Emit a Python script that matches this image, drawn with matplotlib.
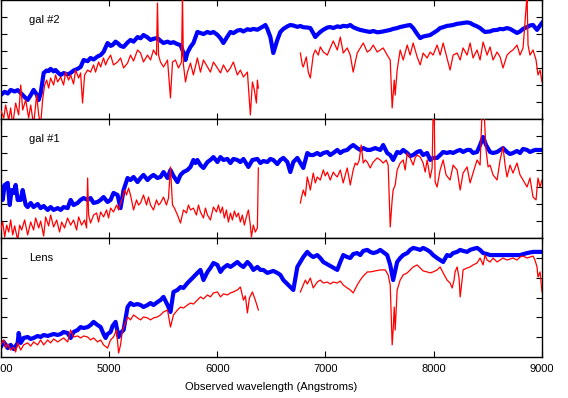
import numpy as np
import matplotlib
matplotlib.use("Agg")
import matplotlib.pyplot as plt

plt.rcParams['font.family'] = ['Liberation Sans', 'DejaVu Sans']

nan = np.nan

# ---- gal #2 ----
wave_g2_blue = [4000, 4037, 4065, 4092, 4129, 4157, 4185, 4212, 4249, 4277, 4304, 4332, 4351, 4369,
                4397, 4424, 4443, 4461, 4489, 4507, 4526, 4554, 4581, 4618, 4646, 4673, 4710, 4738,
                4766, 4803, 4830, 4858, 4895, 4923, 4950, 4987, 5015, 5033, 5061, 5079, 5107, 5135,
                5172, 5199, 5227, 5264, 5292, 5319, 5356, 5384, 5411, 5448, 5476, 5504, 5541, 5568,
                5596, 5633, 5661, 5688, 5707, 5725, 5753, 5780, 5799, 5817, 5845, 5873, 5910, 5937,
                5965, 6002, 6030, 6057, 6094, 6122, 6149, 6186, 6214, 6242, 6279, 6306, 6334, 6371,
                6399, 6426, 6445, 6463, 6491, 6518, 6555, 6583, 6611, 6648, 6675, 6703, 6740, 6768,
                6795, 6832, 6860, 6887, 6906, 6924, 6952, 6980, 7017, 7044, 7072, 7109, 7137, 7164,
                7201, 7229, 7256, 7293, 7321, 7349, 7386, 7413, 7441, 7478, 7506, 7533, 7570, 7598,
                7625, 7662, 7690, 7718, 7755, 7782, 7810, 7847, 7875, 7902, 7939, 7967, 7994, 8031,
                8059, 8087, 8123, 8151, 8179, 8216, 8244, 8271, 8308, 8336, 8363, 8400, 8428, 8456,
                8474, 8520, 8548, 8585, 8613, 8640, 8677, 8705, 8732, 8769, 8797, 8825, 8862, 8889,
                8917, 8954, 8982, 9000]
flux_g2_blue = [1.41, 1.60, 1.50, 1.71, 1.62, 1.70, 1.53, 1.35, 1.12, 1.40, 1.71, 1.45, 1.12, 1.50,
                2.71, 2.85, 2.82, 2.95, 2.80, 2.88, 2.75, 2.59, 2.70, 2.62, 2.71, 2.85, 2.95, 3.06,
                3.47, 3.40, 3.59, 3.50, 3.68, 3.76, 3.95, 4.47, 4.30, 4.35, 4.55, 4.47, 4.30, 4.24,
                4.50, 4.65, 4.55, 4.82, 4.75, 4.94, 4.80, 4.65, 4.72, 4.76, 4.60, 4.47, 4.55, 4.47,
                4.52, 4.40, 4.35, 3.90, 3.47, 3.90, 4.24, 4.47, 4.80, 5.12, 5.06, 5.00, 5.12, 5.05,
                5.12, 4.95, 4.75, 4.47, 4.85, 5.12, 5.05, 5.20, 5.24, 5.15, 5.28, 5.24, 5.30, 5.25,
                5.35, 5.45, 5.53, 5.30, 4.82, 3.88, 4.65, 5.12, 5.30, 5.45, 5.53, 5.50, 5.42, 5.47,
                5.40, 5.38, 5.35, 5.05, 4.82, 4.95, 5.12, 5.25, 5.38, 5.41, 5.35, 5.45, 5.41, 5.48,
                5.45, 5.53, 5.40, 5.30, 5.24, 5.20, 5.15, 5.12, 5.18, 5.10, 5.12, 5.15, 5.20, 5.24,
                5.30, 5.35, 5.41, 5.45, 5.50, 5.53, 5.35, 5.00, 4.76, 4.85, 4.90, 4.94, 5.05, 5.20,
                5.35, 5.40, 5.48, 5.50, 5.53, 5.60, 5.62, 5.65, 5.68, 5.65, 5.55, 5.45, 5.35, 5.20,
                5.12, 5.15, 5.22, 5.24, 5.30, 5.28, 5.35, 5.30, 5.20, 5.06, 5.15, 5.30, 5.41, 5.50,
                5.53, 5.24, 5.50, 5.65]

wave_g2_red = [4000, 4028, 4046, 4074, 4092, 4111, 4138, 4166, 4185, 4203, 4231, 4258, 4277, 4304,
               4332, 4351, 4369, 4387, 4406, 4424, 4443, 4461, 4489, 4507, 4526, 4554, 4581, 4600,
               4627, 4646, 4673, 4692, 4720, 4738, 4756, 4775, 4803, 4830, 4858, 4876, 4904, 4923,
               4950, 4969, 4987, 5015, 5042, 5079, 5107, 5135, 5172, 5199, 5227, 5264, 5292, 5319,
               5356, 5384, 5411, 5439, 5448, 5458, 5476, 5504, 5541, 5568, 5587, 5614, 5642, 5670,
               5679, 5688, 5707, 5725, 5753, 5780, 5817, 5845, 5873, 5910, 5937, 5965, 6002, 6030,
               6057, 6094, 6122, 6149, 6186, 6214, 6242, 6279, 6306, 6325, 6343, 6362, 6371, 6380,
               6570,
               6768, 6786, 6795, 6823, 6841, 6860, 6887, 6906, 6934, 6952, 6980, 7017, 7044, 7072,
               7109, 7137, 7164, 7201, 7229, 7256, 7293, 7321, 7349, 7386, 7413, 7441, 7478, 7506,
               7533, 7570, 7598, 7616, 7635, 7644, 7662, 7690, 7718, 7755, 7782, 7810, 7847, 7875,
               7902, 7939, 7967, 7994, 8031, 8059, 8087, 8123, 8151, 8179, 8216, 8244, 8271, 8308,
               8336, 8363, 8400, 8428, 8456, 8493, 8520, 8548, 8585, 8613, 8640, 8677, 8705, 8732,
               8769, 8797, 8825, 8862, 8871, 8889, 8917, 8945, 8963, 8982, 9000]
flux_g2_red = [0.53, 0.06, 0.82, -0.06, 0.65, -0.35, 0.94, 0.24, 2.00, 0.53, 1.12, 0.06, 0.82, -0.35,
               1.41, 0.24, -0.35, 1.12, 2.00, 2.29, 1.82, 2.41, 2.00, 2.59, 2.18, 2.47, 2.00, 2.76,
               2.29, 2.59, 2.06, 2.88, 2.41, 2.71, 0.94, 2.59, 2.88, 2.76, 3.18, 2.76, 3.35, 3.06,
               3.59, 3.18, 3.47, 3.76, 3.18, 3.35, 3.59, 3.00, 3.29, 3.76, 3.41, 4.06, 3.88, 3.35,
               3.76, 3.47, 4.06, 3.76, 6.82, 3.76, 3.35, 3.06, 3.47, 1.24, 3.35, 3.47, 3.00, 3.35,
               7.30, 3.18, 2.18, 2.76, 3.29, 2.59, 3.59, 2.76, 3.47, 3.06, 2.76, 3.35, 3.00, 2.71,
               3.18, 2.76, 3.00, 3.35, 2.59, 2.88, 2.47, 2.76, 0.24, 2.18, 1.71, 0.94, 2.29, 1.82,
               nan,
               3.88, 3.18, 3.06, 3.65, 2.76, 2.41, 3.76, 4.06, 3.76, 4.24, 3.94, 3.76, 4.18, 4.59,
               4.06, 4.82, 3.88, 4.18, 3.76, 2.76, 3.88, 4.18, 4.47, 3.94, 4.06, 4.35, 3.94, 4.06,
               4.18, 3.76, 3.47, 0.65, 2.29, 1.41, 2.88, 4.06, 3.47, 4.35, 3.76, 4.47, 3.65, 3.18,
               3.88, 3.59, 3.94, 3.76, 4.35, 3.76, 4.47, 3.59, 2.88, 3.76, 3.88, 3.47, 4.18, 3.76,
               4.47, 3.59, 4.06, 3.47, 4.53, 3.76, 4.24, 3.47, 3.94, 3.65, 3.00, 3.76, 3.94, 4.06,
               4.35, 3.76, 4.18, 7.30, 4.35, 3.76, 4.06, 3.47, 2.59, 2.88, 2.18]

# ---- gal #1 ----
wave_g1_blue = [4000, 4018, 4037, 4065, 4083, 4101, 4120, 4138, 4157, 4185, 4203, 4231, 4249, 4277,
                4304, 4341, 4369, 4397, 4434, 4461, 4489, 4526, 4554, 4581, 4618, 4646, 4673, 4710,
                4738, 4766, 4803, 4830, 4858, 4895, 4923, 4950, 4987, 5015, 5042, 5079, 5107, 5135,
                5172, 5199, 5227, 5264, 5292, 5319, 5356, 5384, 5411, 5448, 5476, 5504, 5541, 5568,
                5596, 5633, 5661, 5688, 5725, 5753, 5780, 5799, 5817, 5845, 5873, 5910, 5937, 5965,
                6002, 6030, 6057, 6094, 6122, 6149, 6186, 6214, 6242, 6288, 6325, 6371, 6399, 6426,
                6463, 6491, 6518, 6555, 6583, 6611, 6648, 6675, 6703, 6740, 6768, 6795, 6832, 6860,
                6887, 6924, 6952, 6980, 7017, 7044, 7072, 7109, 7137, 7164, 7201, 7229, 7256, 7293,
                7321, 7349, 7386, 7413, 7459, 7506, 7533, 7570, 7598, 7625, 7662, 7690, 7718, 7755,
                7782, 7810, 7847, 7875, 7902, 7939, 7967, 7994, 8031, 8059, 8087, 8123, 8151, 8179,
                8216, 8244, 8271, 8308, 8336, 8363, 8400, 8428, 8456, 8483, 8520, 8548, 8585, 8613,
                8640, 8677, 8705, 8732, 8769, 8797, 8825, 8862, 8889, 8935, 9000]
flux_g1_blue = [3.00, 2.24, 3.12, 3.24, 1.94, 2.82, 2.65, 3.12, 2.24, 2.24, 2.82, 1.94, 1.82, 2.06,
                1.82, 2.00, 1.76, 1.88, 1.65, 1.82, 1.65, 1.76, 1.65, 1.82, 1.76, 2.24, 1.94, 2.06,
                2.24, 2.35, 2.24, 2.35, 2.06, 2.12, 2.24, 2.41, 2.12, 2.24, 2.65, 2.53, 1.76, 2.82,
                3.53, 3.41, 3.59, 3.29, 3.53, 3.71, 3.41, 3.59, 3.71, 3.53, 3.59, 3.88, 3.53, 4.00,
                3.65, 3.29, 3.71, 3.88, 4.00, 4.18, 4.59, 4.41, 4.59, 4.29, 4.12, 4.47, 4.59, 4.76,
                4.47, 4.76, 4.59, 4.65, 4.41, 4.65, 4.59, 4.47, 4.65, 4.18, 4.59, 4.65, 4.41, 4.53,
                4.47, 4.65, 4.59, 4.35, 4.59, 4.71, 4.47, 3.88, 4.47, 4.71, 4.41, 4.12, 5.00, 4.88,
                4.88, 5.00, 4.88, 5.00, 5.06, 4.88, 5.00, 5.18, 5.00, 5.12, 5.18, 5.35, 5.47, 5.29,
                5.18, 5.29, 5.18, 5.18, 5.29, 5.18, 5.47, 5.00, 4.88, 4.59, 5.06, 5.00, 5.18, 5.00,
                4.82, 4.88, 5.06, 5.12, 4.88, 5.00, 4.59, 4.71, 4.71, 4.88, 5.06, 5.00, 5.06, 5.00,
                5.12, 5.18, 5.06, 5.18, 5.18, 5.00, 5.06, 5.47, 5.94, 5.47, 5.06, 5.00, 5.06, 5.18,
                5.29, 5.06, 4.94, 5.00, 5.12, 5.00, 5.24, 5.18, 5.06, 5.18, 5.18]

wave_g1_red = [4000, 4018, 4037, 4055, 4074, 4092, 4111, 4129, 4157, 4175, 4194, 4221, 4249, 4277,
               4304, 4323, 4351, 4369, 4397, 4415, 4443, 4461, 4489, 4517, 4544, 4563, 4590, 4618,
               4646, 4673, 4701, 4720, 4747, 4775, 4793, 4803, 4812, 4830, 4858, 4886, 4904, 4923,
               4950, 4978, 4996, 5015, 5042, 5070, 5089, 5107, 5125, 5144, 5162, 5181, 5199, 5227,
               5255, 5273, 5292, 5319, 5347, 5365, 5384, 5411, 5439, 5458, 5476, 5504, 5531, 5550,
               5568, 5587, 5605, 5633, 5661, 5688, 5716, 5734, 5753, 5780, 5808, 5827, 5845, 5873,
               5891, 5910, 5937, 5965, 5993, 6011, 6030, 6048, 6066, 6085, 6103, 6122, 6140, 6159,
               6177, 6196, 6214, 6232, 6251, 6269, 6288, 6306, 6316, 6334, 6352, 6371, 6380,
               6570,
               6768, 6777, 6795, 6814, 6832, 6850, 6860, 6878, 6887, 6906, 6924, 6952, 6980, 6998,
               7017, 7044, 7072, 7090, 7109, 7137, 7164, 7183, 7201, 7229, 7256, 7275, 7293, 7312,
               7330, 7349, 7367, 7386, 7413, 7441, 7478, 7506, 7533, 7561, 7579, 7598, 7616, 7625,
               7644, 7662, 7690, 7718, 7736, 7755, 7782, 7810, 7828, 7847, 7875, 7902, 7921, 7939,
               7967, 7985, 7994, 8004, 8013, 8031, 8059, 8087, 8114, 8151, 8179, 8216, 8244, 8271,
               8308, 8336, 8363, 8400, 8428, 8446, 8465, 8483, 8502, 8520, 8548, 8585, 8613, 8640,
               8659, 8677, 8705, 8732, 8769, 8797, 8825, 8862, 8889, 8917, 8945, 8963, 8982, 9000]
flux_g1_red = [0.47, 0.94, 0.06, 0.76, 0.35, 1.06, 0.18, 0.71, -0.12, 0.76, 0.47, 1.06, 0.18, 0.94,
               0.47, 1.18, 0.59, 1.00, 0.12, 1.24, 0.71, 1.35, 0.65, 1.06, 0.35, 0.94, 0.59, 1.18,
               0.76, 1.06, 0.47, 1.24, 0.76, 1.06, 0.59, 3.53, 1.35, 0.88, 1.35, 1.47, 0.94, 1.53,
               1.24, 1.65, 1.18, 1.76, 1.53, 1.94, 1.65, 2.06, 2.35, 2.82, 2.53, 2.94, 2.53, 1.65,
               2.24, 1.94, 2.06, 2.53, 1.94, 2.41, 1.94, 1.65, 2.24, 1.94, 2.06, 2.41, 1.94, 2.35,
               4.18, 1.94, 1.76, 1.35, 0.88, 1.65, 1.47, 1.94, 1.65, 1.76, 1.35, 1.94, 1.53, 1.18,
               1.76, 1.35, 1.06, 1.82, 1.53, 1.94, 1.47, 1.82, 1.18, 1.65, 0.94, 1.47, 1.06, 1.59,
               1.24, 1.47, 0.94, 1.35, 0.76, 1.24, 1.65, 0.76, 0.06, 0.76, 0.35, 0.59, 4.12,
               nan,
               2.06, 2.35, 2.82, 2.47, 3.59, 3.12, 2.82, 3.47, 3.82, 3.24, 3.59, 3.41, 4.00, 3.65,
               3.88, 3.41, 3.88, 3.71, 3.59, 4.00, 3.24, 3.71, 4.12, 3.12, 4.00, 4.41, 4.29, 4.59,
               5.47, 4.41, 4.59, 4.47, 4.12, 4.47, 4.71, 4.59, 4.41, 4.59, 4.29, 0.65, 2.24, 2.82,
               3.12, 4.00, 4.41, 4.59, 4.00, 5.00, 4.71, 4.29, 4.71, 4.88, 4.76, 4.41, 3.88, 4.59,
               3.53, 4.12, 7.40, 7.40, 3.29, 3.00, 4.00, 4.59, 3.71, 3.41, 4.29, 4.00, 2.82, 3.82,
               4.18, 3.24, 3.82, 4.59, 4.29, 7.40, 7.40, 5.18, 4.18, 4.29, 3.71, 3.41, 4.59, 5.35,
               4.29, 3.59, 4.29, 3.82, 4.41, 3.71, 3.41, 3.00, 3.53, 2.41, 2.24, 3.53, 3.00, 3.41]

# ---- Lens ----
wave_lens_blue = [4000, 4028, 4065, 4092, 4120, 4157, 4166, 4185, 4212, 4249, 4277, 4304, 4341, 4369,
                  4397, 4434, 4461, 4489, 4526, 4554, 4581, 4618, 4646, 4673, 4710, 4738, 4766, 4803,
                  4830, 4858, 4895, 4923, 4950, 4969, 4987, 5015, 5033, 5061, 5089, 5107, 5135, 5172,
                  5199, 5227, 5264, 5292, 5319, 5356, 5384, 5411, 5448, 5476, 5504, 5541, 5568, 5596,
                  5633, 5661, 5688, 5725, 5753, 5780, 5817, 5845, 5873, 5910, 5937, 5965, 6002, 6030,
                  6057, 6094, 6122, 6149, 6186, 6214, 6242, 6279, 6306, 6334, 6371, 6399, 6426, 6463,
                  6491, 6518, 6555, 6583, 6611, 6703, 6740, 6768, 6795, 6832, 6860, 6887, 6924, 6952,
                  6980, 7109, 7137, 7164, 7201, 7229, 7256, 7293, 7321, 7349, 7386, 7413, 7441, 7478,
                  7506, 7570, 7598, 7625, 7662, 7690, 7718, 7755, 7782, 7810, 7847, 7875, 7902, 7939,
                  7967, 7994, 8031, 8087, 8123, 8151, 8179, 8216, 8244, 8271, 8308, 8336, 8363, 8400,
                  8428, 8456, 8493, 8520, 8613, 8705, 8797, 8862, 8917, 9000]
flux_lens_blue = [0.50, 0.76, 0.45, 0.61, 0.40, 0.71, 1.21, 0.71, 0.96, 1.01, 0.91, 0.96, 1.06, 1.01,
                  1.11, 1.06, 1.11, 1.16, 1.11, 1.16, 1.26, 1.21, 0.96, 1.26, 1.36, 1.51, 1.46, 1.51,
                  1.61, 1.77, 1.61, 1.51, 1.16, 0.96, 1.16, 1.26, 1.56, 1.77, 1.01, 1.21, 1.36, 2.52,
                  2.72, 2.62, 2.67, 2.62, 2.52, 2.62, 2.72, 2.62, 2.77, 2.87, 3.03, 2.62, 2.27, 3.28,
                  3.38, 3.53, 3.48, 3.73, 3.88, 4.03, 4.24, 4.39, 3.88, 4.29, 4.49, 4.74, 4.64, 4.29,
                  4.49, 4.64, 4.54, 4.64, 4.79, 4.64, 4.54, 4.79, 4.64, 4.39, 4.54, 4.39, 4.39, 4.24,
                  4.29, 4.34, 4.24, 4.14, 3.88, 3.38, 4.54, 4.79, 5.04, 5.30, 5.14, 5.04, 5.14, 4.99,
                  4.79, 4.39, 4.79, 5.14, 5.04, 4.99, 5.19, 5.24, 5.14, 5.35, 5.40, 5.30, 5.24, 5.30,
                  5.40, 5.14, 4.64, 3.88, 4.79, 4.99, 5.14, 5.24, 5.40, 5.50, 5.45, 5.40, 5.50, 5.40,
                  5.30, 5.14, 4.99, 4.79, 5.14, 5.09, 5.24, 5.30, 5.40, 5.35, 5.30, 5.40, 5.45, 5.50,
                  5.40, 5.24, 5.19, 5.14, 5.14, 5.14, 5.14, 5.24, 5.30, 5.30]

wave_lens_red = [4000, 4028, 4046, 4065, 4092, 4120, 4138, 4157, 4185, 4212, 4249, 4277, 4304, 4341,
                 4369, 4397, 4434, 4461, 4489, 4526, 4554, 4581, 4618, 4646, 4673, 4710, 4738, 4766,
                 4803, 4830, 4858, 4895, 4923, 4950, 4987, 5015, 5042, 5070, 5089, 5107, 5125, 5144,
                 5172, 5199, 5227, 5264, 5292, 5319, 5356, 5384, 5411, 5448, 5476, 5504, 5541, 5568,
                 5596, 5633, 5661, 5688, 5725, 5753, 5780, 5817, 5845, 5873, 5910, 5937, 5965, 6002,
                 6030, 6057, 6094, 6122, 6149, 6186, 6214, 6242, 6260, 6279, 6297, 6325, 6352, 6380,
                 6570,
                 6768, 6795, 6814, 6832, 6860, 6887, 6924, 6952, 6980, 7017, 7044, 7072, 7109, 7137,
                 7164, 7201, 7229, 7256, 7293, 7321, 7349, 7386, 7413, 7459, 7506, 7552, 7579, 7598,
                 7616, 7625, 7635, 7644, 7662, 7690, 7718, 7755, 7782, 7810, 7847, 7875, 7902, 7939,
                 7967, 7994, 8031, 8059, 8087, 8123, 8151, 8170, 8188, 8197, 8216, 8234, 8244, 8262,
                 8271, 8308, 8336, 8363, 8400, 8428, 8456, 8474, 8493, 8520, 8548, 8585, 8613, 8640,
                 8677, 8705, 8732, 8769, 8797, 8825, 8862, 8889, 8917, 8935, 8954, 8963, 8982, 9000]
flux_lens_red = [0.61, 0.86, 0.45, 0.66, 0.35, 0.50, 0.25, 0.71, 0.35, 0.61, 0.71, 0.55, 0.76, 0.61,
                 0.86, 0.61, 0.86, 0.71, 0.91, 0.76, 0.86, 0.96, 0.76, 1.36, 1.01, 1.06, 0.96, 1.06,
                 1.01, 0.86, 0.96, 0.76, 0.86, 0.61, 0.45, 0.86, 1.01, 1.36, 0.20, 0.61, 1.36, 1.61,
                 2.02, 1.87, 2.12, 1.97, 1.87, 2.02, 1.97, 1.87, 1.97, 2.02, 2.12, 2.27, 2.37, 1.51,
                 2.12, 2.37, 2.52, 2.47, 2.62, 2.72, 2.67, 2.87, 3.03, 2.93, 3.13, 3.03, 3.23, 3.28,
                 3.03, 3.18, 3.13, 3.23, 3.28, 3.38, 3.53, 2.87, 3.08, 2.22, 2.97, 3.28, 2.87, 2.37,
                 nan,
                 3.28, 3.63, 3.88, 3.68, 3.98, 3.48, 3.78, 3.88, 3.73, 3.78, 3.68, 3.78, 3.73, 3.83,
                 3.63, 3.48, 3.38, 3.23, 3.63, 3.88, 4.08, 4.29, 4.29, 4.34, 4.39, 4.39, 4.14, 3.63,
                 0.61, 1.36, 2.52, 1.36, 3.38, 3.88, 4.14, 4.24, 4.39, 4.54, 4.64, 4.49, 4.34, 4.29,
                 4.24, 4.29, 4.39, 4.54, 4.24, 3.88, 3.73, 3.48, 3.88, 4.29, 4.54, 3.98, 3.03, 3.88,
                 4.39, 4.49, 4.54, 4.64, 4.74, 4.99, 4.64, 5.14, 4.89, 4.79, 4.99, 4.79, 4.89, 4.99,
                 4.89, 4.94, 4.99, 4.89, 5.04, 5.09, 4.99, 5.04, 5.09, 4.89, 4.54, 4.03, 4.29, 3.28]

panels = [
    ("gal #2", wave_g2_blue, flux_g2_blue, wave_g2_red, flux_g2_red, 7),
    ("gal #1", wave_g1_blue, flux_g1_blue, wave_g1_red, flux_g1_red, 7),
    ("Lens", wave_lens_blue, flux_lens_blue, wave_lens_red, flux_lens_red, 6),
]

fig = plt.figure(figsize=(5.68, 3.98), dpi=100)

left = 0.7 / 568
width = 541.3 / 568
height = 119 / 398
bottoms = [1 - 119 / 398, 1 - 238 / 398, 1 - 357 / 398]

for i, (name, wb, fb, wr, fr, ytop) in enumerate(panels):
    ax = fig.add_axes([left, bottoms[i], width, height])
    ax.plot(wb, fb, color='#0000ff', linewidth=3.0, solid_joinstyle='round', zorder=2)
    ax.plot(wr, fr, color='#ff0000', linewidth=0.9, zorder=3)
    ax.set_xlim(4000, 9000)
    ax.set_ylim(0, ytop)
    ax.set_xticks([4000, 5000, 6000, 7000, 8000, 9000])
    ax.set_yticks(range(1, ytop))
    ax.tick_params(direction='in', top=True, right=True, length=4, width=0.8,
                   labelleft=False, labelsize=8, pad=5)
    for s in ax.spines.values():
        s.set_linewidth(1.0)
    ax.text(0.052, 0.83, name, transform=ax.transAxes, fontsize=8, va='center', ha='left')
    if i < 2:
        ax.tick_params(labelbottom=False)
    else:
        ax.set_xlabel('Observed wavelength (Angstroms)', fontsize=8, labelpad=6)

fig.savefig('out.png', dpi=100)
